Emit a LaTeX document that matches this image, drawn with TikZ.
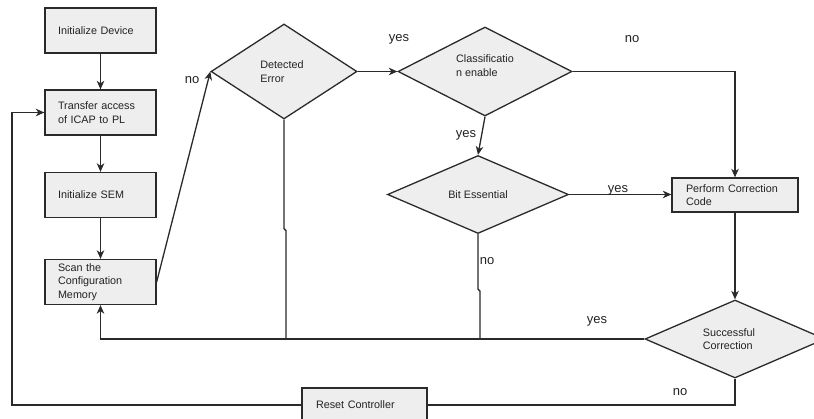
\documentclass[tikz,border=0pt]{standalone}
\usepackage{fontspec}
\setmainfont{Liberation Sans}
\usetikzlibrary{shapes.geometric,arrows.meta}
\definecolor{boxfill}{HTML}{EEEEEE}
\definecolor{edge}{HTML}{2A2A2A}
\definecolor{ink}{HTML}{222222}

\begin{document}
\begin{tikzpicture}[x=1pt,y=-1pt,
  box/.style={draw=edge,fill=boxfill,line width=1.3pt,rectangle,
    inner xsep=13pt,inner ysep=0pt,minimum height=45pt,text width=85pt,
    align=left,text=ink,font=\fontsize{10.8}{13.5}\selectfont},
  dia/.style={draw=edge,fill=boxfill,line width=1.3pt,diamond,inner sep=0pt},
  dtext/.style={align=left,inner sep=0pt,text=ink,font=\fontsize{10.8}{13.5}\selectfont},
  lbl/.style={inner sep=0pt,text=ink,font=\fontsize{13}{15}\selectfont},
  link/.style={draw=edge,line width=1.3pt},
  arr/.style={link,-{Stealth[length=8.5pt,width=7.5pt,inset=2.5pt]}}]

\useasboundingbox (0,0) rectangle (814,419);
\clip (0,0) rectangle (814,419);

% process boxes
\node[box] (dev)  at (100.5,30.5)  {Initialize Device};
\node[box] (icap) at (100.5,112.5) {Transfer access\\of ICAP to PL};
\node[box] (sem)  at (100.5,195)   {Initialize SEM};
\node[box] (scan) at (100.5,282)   {Scan the\\Configuration\\Memory};
\node[box,minimum height=34pt,inner xsep=14pt,text width=98pt] (pcc) at (735,195) {Perform Correction\\Code};
\node[box,minimum height=34pt,inner xsep=14pt,text width=97pt] (rst) at (364.5,405) {Reset Controller};

% decisions
\node[dia,minimum width=146pt,minimum height=95pt,
  label={[dtext,xshift=-2pt]center:{Detected\\Error}}] (det) at (284,71.5) {};
\node[dia,minimum width=174pt,minimum height=89pt,
  label={[dtext,yshift=6pt]center:{Classificatio\\n enable}}] (cls) at (485,71.5) {};
\node[dia,minimum width=181pt,minimum height=78pt,
  label={[dtext]center:{Bit Essential}}] (bit) at (478,194.5) {};
\node[dia,minimum width=180pt,minimum height=78pt,
  label={[dtext,xshift=-6pt]center:{Successful\\Correction}}] (suc) at (735,339) {};

% junction and corner points
\coordinate (j1) at (286,339);
\coordinate (j2) at (480,339);
\coordinate (c1) at (12,405);

% main flow
\draw[arr] (dev) -- (icap);
\draw[arr] (icap) -- (sem);
\draw[arr] (sem) -- (scan);
\draw[arr] (scan.east) -- (det.west);
\draw[arr] (det.east) -- (cls.west);
\draw[arr] (cls.south) -- (bit.north);
\draw[arr] (cls.east) -| (pcc.north);
\draw[arr] (bit.east) -- (bit.east -| pcc.west);
\draw[arr] (pcc.south) -- (suc.north);

% return paths
\draw[arr] (suc.west) -| (scan.south);
\draw[link] (det.south) -- ++(0,109) -- ++(2,2) -- (j1);
\draw[link] (bit.south) -- ++(0,55) -- ++(2,2) -- (j2);
\draw[link] (suc.south) |- (rst.east);
\draw[arr] (rst.west) -- (c1) |- (icap.west);

% branch labels
\node[lbl] (l1) at (192,80)  {no};
\node[lbl] (l2) at (399,39)  {yes};
\node[lbl] (l3) at (632,39)  {no};
\node[lbl] (l4) at (466,135) {yes};
\node[lbl] (l5) at (618,190) {yes};
\node[lbl] (l6) at (487,261) {no};
\node[lbl] (l7) at (597,321) {yes};
\node[lbl] (l8) at (680,392) {no};
\end{tikzpicture}
\end{document}
